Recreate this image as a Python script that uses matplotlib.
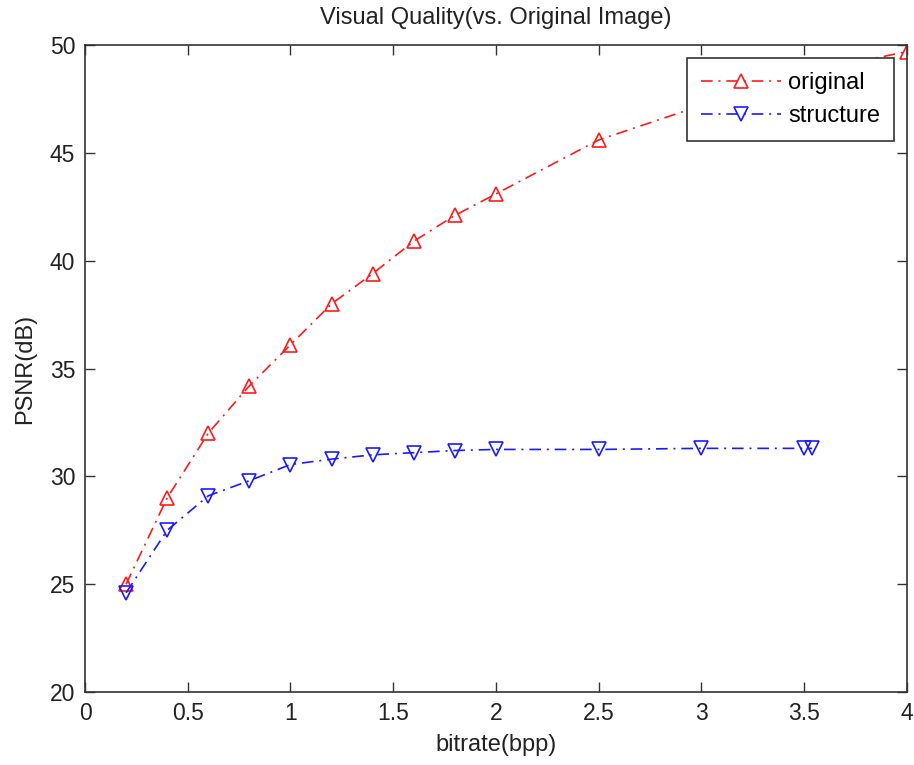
import matplotlib
matplotlib.use("Agg")
import matplotlib.pyplot as plt

bitrate_original = [0.2, 0.4, 0.6, 0.8, 1.0, 1.2, 1.4, 1.6, 1.8, 2.0, 2.5, 3.0, 3.5, 4.0]
psnr_original = [25.0, 29.0, 32.0, 34.2, 36.1, 38.0, 39.4, 40.9, 42.1, 43.1, 45.6, 47.2, 48.7, 49.7]

bitrate_structure = [0.2, 0.4, 0.6, 0.8, 1.0, 1.2, 1.4, 1.6, 1.8, 2.0, 2.5, 3.0, 3.5, 3.54]
psnr_structure = [24.6, 27.5, 29.1, 29.8, 30.55, 30.8, 31.0, 31.1, 31.2, 31.25, 31.25, 31.3, 31.3, 31.3]

x_ticks = [0, 0.5, 1, 1.5, 2, 2.5, 3, 3.5, 4]
x_tick_labels = ["0", "0.5", "1", "1.5", "2", "2.5", "3", "3.5", "4"]
y_ticks = [20, 25, 30, 35, 40, 45, 50]

plt.rcParams["font.family"] = ["Liberation Sans", "DejaVu Sans"]

fig = plt.figure(figsize=(9.14, 7.65), dpi=100)
ax = fig.add_axes([0.093, 0.0954, 0.899, 0.8456])

dash_pattern = (7, 3.5, 1.2, 3.5)
ax.plot(bitrate_original, psnr_original, color="#ff1a1a", linestyle="-.",
        dashes=dash_pattern, linewidth=1.2, marker="^", markersize=10,
        markerfacecolor="none", markeredgewidth=1.2, label="original", zorder=2)
ax.plot(bitrate_structure, psnr_structure, color="#1a1aff", linestyle="-.",
        dashes=dash_pattern, linewidth=1.2, marker="v", markersize=10,
        markerfacecolor="none", markeredgewidth=1.2, label="structure", zorder=2)

ax.set_xlim(0, 4)
ax.set_ylim(20, 50)
ax.set_xticks(x_ticks)
ax.set_xticklabels(x_tick_labels)
ax.set_yticks(y_ticks)
ax.tick_params(direction="in", length=7, width=1, top=True, right=True,
               labelsize=16.5, pad=7, colors="#333333", labelcolor="#222222")
for spine in ax.spines.values():
    spine.set_linewidth(1.2)
    spine.set_color("#333333")

ax.set_title("Visual Quality(vs. Original Image)", fontsize=17, pad=15, color="#222222")
ax.set_xlabel("bitrate(bpp)", fontsize=17, labelpad=7, color="#222222")
ax.set_ylabel("PSNR(dB)", fontsize=17, labelpad=10, color="#222222")

leg = ax.legend(loc="upper right", bbox_to_anchor=(0.985, 0.98),
                borderaxespad=0, fontsize=17, fancybox=False,
                framealpha=1, edgecolor="#333333", handlelength=3.4,
                handletextpad=0.3, borderpad=0.6, labelspacing=0.45)
leg.get_frame().set_linewidth(1.2)
leg.set_zorder(5)

fig.savefig("out.png", dpi=100)
